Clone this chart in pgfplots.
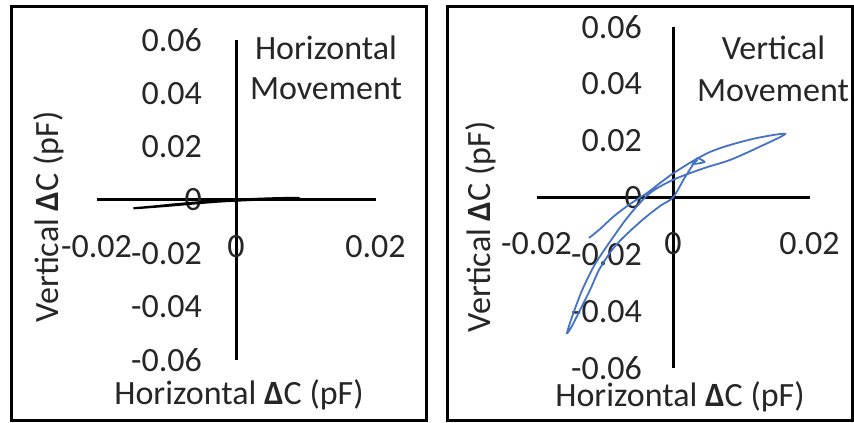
\documentclass[border=0pt]{standalone}
\usepackage{fontspec}
\setmainfont{Carlito}
\usepackage{pgfplots}
\pgfplotsset{compat=1.18}
\definecolor{xlblue}{RGB}{68,114,196}
\definecolor{txt}{RGB}{38,38,38}
\newcommand{\bigfont}{\fontsize{34bp}{40bp}\selectfont}
\pgfplotsset{
  quad/.style={
    scale only axis,
    axis lines=middle,
    xmin=-0.02, xmax=0.02, ymin=-0.06, ymax=0.06,
    scaled ticks=false,
    xtick={-0.02,0,0.02}, xticklabels={-0.02,0,0.02},
    ytick={-0.06,-0.04,-0.02,0,0.02,0.04,0.06},
    yticklabels={-0.06,-0.04,-0.02,0,0.02,0.04,0.06},
    major tick length=0pt,
    hide obscured x ticks=false, hide obscured y ticks=false,
    axis line style={black, line width=3bp, -},
    every inner x axis line/.append style={-, line width=3bp},
    every inner y axis line/.append style={-, line width=3bp},
    tick label style={font=\bigfont, text=txt, inner sep=0pt},
    xticklabel style={anchor=center},
    yticklabel style={anchor=east},
    clip=false,
  }
}
\begin{document}
\begin{tikzpicture}
\useasboundingbox (0,0) rectangle (854bp,423bp);
\draw[line width=3bp] (11bp,2bp) rectangle (426bp,416.5bp);
\draw[line width=3bp] (447bp,2bp) rectangle (852.5bp,416.5bp);

% Left panel
\begin{axis}[quad, at={(236bp,223bp)}, anchor=origin,
  width=279bp, height=320bp,
  yticklabel style={xshift=-34bp}, xticklabel style={yshift=-47bp}]
\addplot[black, line width=2.2bp, smooth, tension=0.5] coordinates {
(-0.0147,-0.0031) (-0.0120,-0.0025) (-0.0090,-0.0017) (-0.0050,-0.0008)
(-0.0020,-0.0002) (0.0010,0.0002) (0.0050,0.0006) (0.0091,0.0008)
(0.0060,0.0004) (0.0020,0.0000) (-0.0020,-0.0005) (-0.0060,-0.0013)
(-0.0100,-0.0022) (-0.0140,-0.0030)
};
\end{axis}

% Right panel
\begin{axis}[quad, at={(673bp,225.5bp)}, anchor=origin,
  width=273bp, height=341bp,
  yticklabel style={xshift=-31bp}, xticklabel style={yshift=-46bp}]
\addplot[xlblue, line width=1.8bp, smooth, tension=0.5] coordinates {
(-0.01231,-0.01426) (-0.01069,-0.01109) (-0.00879,-0.00686) (-0.00630,-0.00229)
(-0.00381,0.00158) (-0.00190,0.00510) (0.00000,0.00845) (0.00293,0.01285)
(0.00542,0.01602) (0.00835,0.01848) (0.01231,0.02094) (0.01641,0.02235)
(0.01231,0.01742) (0.00835,0.01320) (0.00440,0.01021) (0.00000,0.00620)
(-0.00340,0.00150) (-0.00650,-0.00650) (-0.00930,-0.01580) (-0.01150,-0.02376)
(-0.01330,-0.03256) (-0.01470,-0.04136) (-0.01553,-0.04770)
(-0.01480,-0.04523) (-0.01362,-0.03960) (-0.01216,-0.03256) (-0.01069,-0.02482)
(-0.00835,-0.01672) (-0.00483,-0.00862) (-0.00190,-0.00299) (0.00000,0.00000)
(0.00160,0.00650) (0.00290,0.01150) (0.00350,0.01380) (0.00460,0.01250)
(0.00290,0.01180) (0.00360,0.01320)
};
\end{axis}

% Titles and labels
\node[font=\bigfont, text=txt, anchor=base] at (326bp,363.5bp) {Horizontal};
\node[font=\bigfont, text=txt, anchor=base] at (326bp,323bp) {Movement};
\node[font=\bigfont, text=txt, anchor=base] at (773.5bp,363bp) {Vertical};
\node[font=\bigfont, text=txt, anchor=base] at (773bp,321.5bp) {Movement};

\node[font=\bigfont, text=txt] at (239bp,28bp) {Horizontal \textbf{Δ}C (pF)};
\node[font=\bigfont, text=txt] at (680bp,26bp) {Horizontal \textbf{Δ}C (pF)};
\node[font=\bigfont, text=txt, rotate=90] at (49bp,206bp) {Vertical \textbf{Δ}C (pF)};
\node[font=\bigfont, text=txt, rotate=90] at (481bp,196bp) {Vertical \textbf{Δ}C (pF)};
\end{tikzpicture}
\end{document}
